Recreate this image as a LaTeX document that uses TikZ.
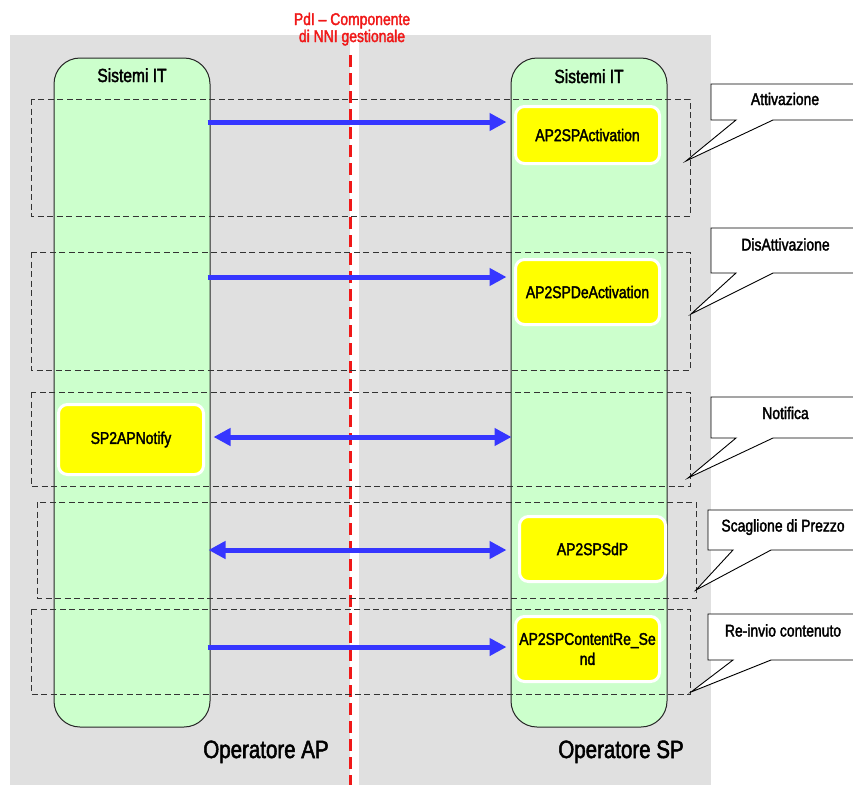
\documentclass[tikz,border=0pt]{standalone}
\usepackage{fontspec}
\setmainfont{Liberation Sans}[FakeStretch=0.82,FakeBold=2]
\usetikzlibrary{arrows.meta}
\definecolor{panelgray}{HTML}{E0E0E0}
\definecolor{lanegreen}{HTML}{CCFFCC}
\definecolor{flowblue}{HTML}{3636FF}
\definecolor{pdired}{HTML}{F01818}
\definecolor{msgyellow}{HTML}{FFFF00}
\begin{document}
\begin{tikzpicture}[x=1pt,y=-1pt,
  lane/.style={draw=black!85, fill=lanegreen, line width=1pt, rounded corners=26pt,
    minimum width=156pt, minimum height=669pt, inner sep=0pt},
  lanetitle/.style={anchor=base, font=\fontsize{19}{22}\selectfont},
  msg/.style={fill=msgyellow, draw=white, line width=3pt, rounded corners=9pt,
    inner sep=0pt, align=center, font=\fontsize{17}{20}\selectfont},
  group/.style={draw=black!80, line width=0.9pt, dash pattern=on 6pt off 3.5pt},
  flowtip/.tip={Triangle[length=17pt,width=17pt]},
  flow/.style={draw=flowblue, line width=5pt, -flowtip},
  flowboth/.style={draw=flowblue, line width=5pt, flowtip-flowtip},
  callout/.style={fill=white, draw=black, line width=0.9pt, line join=miter},
  calltext/.style={anchor=base, font=\fontsize{17}{20}\selectfont},
  pditext/.style={anchor=base, text=pdired, font=\fontsize{17}{20}\selectfont},
  divider/.style={draw=pdired, line width=3.5pt, dash pattern=on 12pt off 6pt},
  operator/.style={anchor=base, font=\fontsize{25}{30}\selectfont}
]
\useasboundingbox (0,0) rectangle (853,785);
\clip (0,0) rectangle (853,785);

% background panel and the white gap at the interconnection point
\fill[panelgray] (10,35) rectangle (711,785);
\fill[white] (350,35) rectangle (359,785);

% the two IT-system lanes
\node[lane] (apit) at (132,392.5) {};
\node[lane] (spit) at (589,392.5) {};
\node[lanetitle] (aptitle) at (132,82) {Sistemi IT};
\node[lanetitle] (sptitle) at (589,83) {Sistemi IT};

% interconnection point
\coordinate (divtop) at (350.5,55);
\coordinate (divbot) at (350.5,785);
\draw[divider] (divtop) -- (divbot);
\node[pditext] (pdi1) at (352,25) {PdI – Componente};
\node[pditext] (pdi2) at (352,42) {di NNI gestionale};

% grouping frames, one per interface
\draw[group] (31,99) rectangle (690,216);
\draw[group] (31,252) rectangle (690,370);
\draw[group] (31,392) rectangle (690,486);
\draw[group] (37,502) rectangle (696,598);
\draw[group] (31,609) rectangle (690,694);

% interface operations
\node[msg, minimum width=144pt, minimum height=57pt] (act) at (587.5,135) {AP2SPActivation};
\node[msg, minimum width=144pt, minimum height=65pt] (deact) at (587.5,292) {AP2SPDeActivation};
\node[msg, minimum width=145pt, minimum height=70pt] (notify) at (131,439.5) {SP2APNotify};
\node[msg, minimum width=146pt, minimum height=65pt] (sdp) at (592.5,549) {AP2SPSdP};
\node[msg, minimum width=144pt, minimum height=65pt] (resend) at (587.5,649) {AP2SPContentRe\_Se\\nd};

% message flows between the lanes
\coordinate (r1) at (0,122);
\coordinate (r2) at (0,277);
\coordinate (r3) at (0,437);
\coordinate (r4) at (0,550);
\coordinate (r5) at (0,647);
\draw[flow] ([xshift=-3pt]apit.east |- r1) -- ([xshift=-4pt]spit.west |- r1);
\draw[flow] ([xshift=-3pt]apit.east |- r2) -- ([xshift=-4pt]spit.west |- r2);
\draw[flowboth] ([xshift=3pt]apit.east |- r3) -- ([xshift=1pt]spit.west |- r3);
\draw[flowboth] ([xshift=-2pt]apit.east |- r4) -- ([xshift=-4pt]spit.west |- r4);
\draw[flow] ([xshift=-3pt]apit.east |- r5) -- ([xshift=-4pt]spit.west |- r5);

% callouts naming each interface
\draw[callout] (711,84) -- (880,84) -- (880,120) -- (773,120) -- (686,161) -- (736,120) -- (711,120) -- cycle;
\draw[callout] (711,228) -- (880,228) -- (880,273) -- (773,273) -- (691,314) -- (736,273) -- (711,273) -- cycle;
\draw[callout] (711,397) -- (880,397) -- (880,438) -- (773,438) -- (688,478) -- (736,438) -- (711,438) -- cycle;
\draw[callout] (708,510) -- (880,510) -- (880,550) -- (771,550) -- (696,590) -- (733,550) -- (708,550) -- cycle;
\draw[callout] (708,614) -- (880,614) -- (880,660) -- (771,660) -- (691,692) -- (733,660) -- (708,660) -- cycle;
\node[calltext] (c1) at (785,105) {Attivazione};
\node[calltext] (c2) at (785.5,250.5) {DisAttivazione};
\node[calltext] (c3) at (785.5,419) {Notifica};
\node[calltext] (c4) at (783,531.5) {Scaglione di Prezzo};
\node[calltext] (c5) at (783,636.5) {Re-invio contenuto};

% operator names
\node[operator] (opap) at (266,758) {Operatore AP};
\node[operator] (opsp) at (621,758) {Operatore SP};
\end{tikzpicture}
\end{document}
